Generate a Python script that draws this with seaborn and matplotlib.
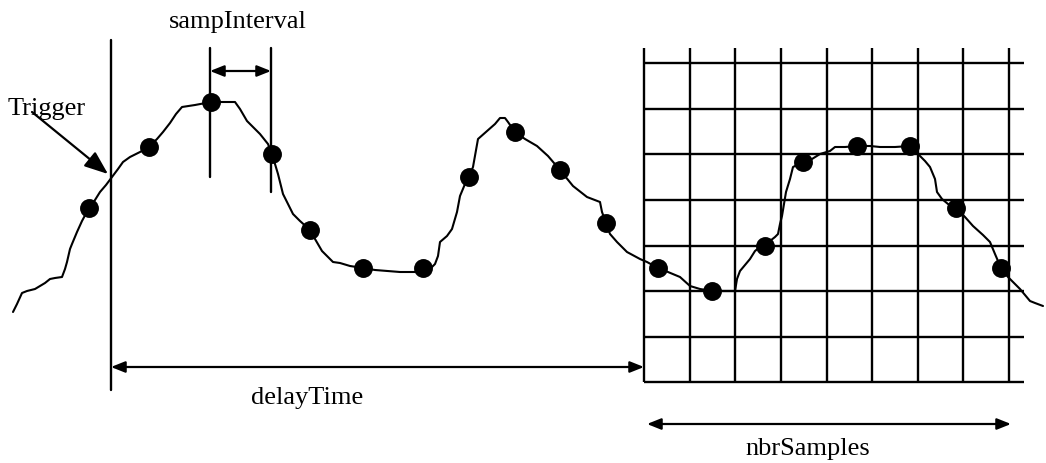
import numpy as np
import pandas as pd
import matplotlib
matplotlib.use('Agg')
import matplotlib.pyplot as plt
import seaborn as sns

sns.set_style("white")
plt.rcParams['font.family'] = ['Liberation Serif', 'DejaVu Serif']
plt.rcParams['text.color'] = 'black'

# ── DATA (picture coordinates, y grows downward) ─────────
wave_x = [13, 17, 22, 27, 35, 45, 50, 55, 62, 65, 67, 70, 72, 77, 82, 89, 95, 100,
          106, 112, 118, 123, 130, 140, 149, 157, 163, 170, 176, 182, 195, 211, 225,
          235, 240, 247, 255, 260, 268, 272, 275, 278, 283, 288, 293, 300, 310, 315,
          322, 328, 333, 340, 350, 363, 375, 387, 400, 415, 423, 430, 435, 438, 440,
          447, 452, 457, 460, 465, 469, 473, 478, 487, 495, 500, 505, 508, 515, 525,
          537, 548, 560, 573, 587, 600, 602, 606, 610, 617, 627, 640, 647, 658, 668,
          680, 690, 700, 712, 725, 735, 737, 740, 745, 750, 755, 760, 765, 770, 775,
          778, 780, 782, 784, 786, 790, 793, 803, 812, 820, 830, 835, 845, 857, 870,
          880, 895, 910, 918, 925, 930, 935, 937, 942, 948, 956, 965, 973, 983, 990,
          995, 1001, 1008, 1015, 1020, 1025, 1030, 1035, 1043]
wave_y = [313, 305, 294, 292, 290, 284, 280, 279, 278, 270, 263, 250, 245, 233, 222,
          209, 201, 193, 186, 178, 170, 163, 158, 153, 148, 140, 133, 124, 115, 108,
          106, 103, 103, 103, 110, 122, 130, 135, 145, 155, 165, 175, 195, 205, 215,
          222, 231, 240, 252, 258, 263, 264, 267, 269, 271, 272, 273, 273, 269, 270,
          265, 257, 243, 237, 230, 213, 197, 185, 178, 168, 140, 132, 125, 119, 119,
          123, 133, 140, 147, 157, 171, 187, 198, 203, 213, 224, 235, 243, 253, 260,
          263, 269, 273, 278, 287, 290, 292, 292, 292, 280, 272, 266, 260, 252, 248,
          247, 242, 238, 235, 225, 217, 205, 193, 180, 168, 163, 160, 155, 152, 148,
          148, 147, 147, 148, 148, 147, 155, 162, 168, 180, 193, 200, 205, 209, 218,
          227, 236, 243, 255, 269, 278, 285, 290, 296, 302, 304, 307]

sample_x = [89, 149, 211, 272, 310, 363, 423, 469, 515, 560, 606, 658,
            712, 765, 803, 857, 910, 956, 1001]
sample_y = [209, 148, 103, 155, 231, 269, 269, 178, 133, 171, 224, 269,
            292, 247, 163, 147, 147, 209, 269]

grid_cols = [644, 690, 735, 781, 827, 872, 918, 963, 1009]
grid_rows = [64, 110, 155, 201, 247, 292, 338, 383]

trigger_x = 111
interval_x = [210, 271]

wave = pd.DataFrame({'x': wave_x, 'y': wave_y})
samples = pd.DataFrame({'x': sample_x, 'y': sample_y})

# ── FIGURE ───────────────────────────────────────────────
fig = plt.figure(figsize=(10.46, 4.64), dpi=100)
ax = fig.add_axes([0, 0, 1, 1])

LW = 1.7
# sampling grid
for gx in grid_cols:
    ax.plot([gx, gx], [49, 383], color='black', lw=LW, solid_capstyle='butt')
for gy in grid_rows:
    ax.plot([grid_cols[0], 1024], [gy, gy], color='black', lw=LW, solid_capstyle='butt')

# trigger and sample interval markers
ax.plot([trigger_x, trigger_x], [41, 391], color='black', lw=LW)
ax.plot([interval_x[0], interval_x[0]], [49, 178], color='black', lw=LW)
ax.plot([interval_x[1], interval_x[1]], [49, 193], color='black', lw=LW)

# waveform + samples
sns.lineplot(data=wave, x='x', y='y', sort=False, color='black', lw=1.5, ax=ax)
sns.scatterplot(data=samples, x='x', y='y', color='black', s=185,
                edgecolor='black', linewidth=0, zorder=5, ax=ax)
ax.set_xlim(0, 1046)
ax.set_ylim(464, 0)
ax.axis('off')

# dimension arrows
arrow_kw = dict(arrowstyle='<|-|>,head_length=0.7,head_width=0.28',
                color='black', lw=1.6, shrinkA=0, shrinkB=0, mutation_scale=12)
ax.annotate('', xy=(interval_x[1], 72), xytext=(interval_x[0], 72), arrowprops=arrow_kw)
ax.annotate('', xy=(grid_cols[0], 368), xytext=(trigger_x, 368), arrowprops=arrow_kw)
ax.annotate('', xy=(1011, 425), xytext=(647, 425), arrowprops=arrow_kw)
ax.annotate('', xy=(108, 175), xytext=(32, 113),
            arrowprops=dict(arrowstyle='-|>,head_length=0.9,head_width=0.35',
                            color='black', lw=1.6, shrinkA=0, shrinkB=0,
                            mutation_scale=16))

# labels
FS = 19
ax.text(238, 28, 'sampInterval', ha='center', va='baseline', fontsize=FS, color='black')
ax.text(8, 115, 'Trigger', ha='left', va='baseline', fontsize=FS, color='black')
ax.text(307, 404, 'delayTime', ha='center', va='baseline', fontsize=FS, color='black')
ax.text(808, 455, 'nbrSamples', ha='center', va='baseline', fontsize=FS, color='black')

plt.savefig('out.png', dpi=100)
plt.close()
